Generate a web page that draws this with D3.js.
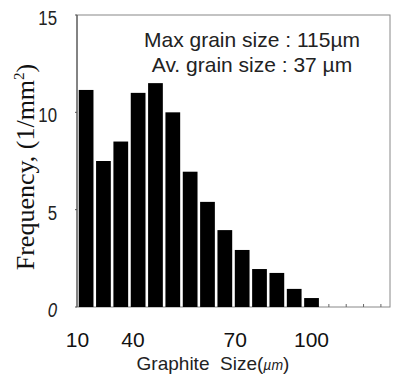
<!DOCTYPE html>
<html>
<head>
<meta charset="utf-8">
<script src="https://cdn.jsdelivr.net/npm/d3@7"></script>
<style>
  html, body { margin: 0; padding: 0; background: #fff; }
  svg { display: block; }
</style>
</head>
<body>
<div id="chart"></div>
<script>
// bins of graphite size, frequency per mm^2
const bins = d3.range(18).map(i => `b${i + 1}`);
const frequency = [11.15, 7.5, 8.5, 11.0, 11.5, 10.0, 6.95, 5.4, 3.95, 2.93, 1.95, 1.75, 0.93, 0.46, 0, 0, 0, 0];
const yTicks = [0, 5, 10, 15];
const xTickLabels = ['10', '40', '70', '100'];
const xTickBins = [-0.5, 2.7, 8.6, 13.0];   // where each label sits, in bin units
const notes = ['Max grain size : 115\u00b5m', 'Av. grain size : 37 \u00b5m'];

const width = 393;
const height = 374;
const margin = { top: 15, right: 3, bottom: 67, left: 77 };

const svg = d3.select('#chart').append('svg')
  .attr('width', width)
  .attr('height', height);

const x = d3.scaleBand()
  .domain(bins)
  .range([margin.left, width - margin.right])
  .paddingInner(0.15)
  .paddingOuter(0.1);

const y = d3.scaleLinear()
  .domain([0, 15])
  .range([height - margin.bottom, margin.top]);

// frame
svg.append('rect')
  .attr('x', margin.left)
  .attr('y', margin.top)
  .attr('width', width - margin.left - margin.right)
  .attr('height', y(0) - margin.top)
  .attr('fill', 'none')
  .attr('stroke', '#888')
  .attr('stroke-width', 1);

svg.append('line')
  .attr('x1', margin.left).attr('x2', margin.left)
  .attr('y1', margin.top).attr('y2', y(0))
  .attr('stroke', '#444');

// small ticks at bin edges on the bottom line
svg.append('g')
  .selectAll('line')
  .data(bins.slice(14))
  .join('line')
  .attr('x1', d => x(d) + x.bandwidth() / 2)
  .attr('x2', d => x(d) + x.bandwidth() / 2)
  .attr('y1', y(0))
  .attr('y2', y(0) - 3)
  .attr('stroke', '#666');

// bars
svg.append('g')
  .selectAll('rect')
  .data(frequency)
  .join('rect')
  .attr('x', (d, i) => x(bins[i]))
  .attr('y', d => y(d))
  .attr('width', x.bandwidth())
  .attr('height', d => y(0) - y(d))
  .attr('fill', '#000');

// y tick labels
const yAxis = svg.append('g');
yTicks.forEach(t => {
  yAxis.append('line')
    .attr('x1', margin.left - 2).attr('x2', margin.left)
    .attr('y1', y(t)).attr('y2', y(t))
    .attr('stroke', '#555');
  yAxis.append('text')
    .attr('transform', `translate(${margin.left - 20}, ${y(t) + 10}) scale(0.8, 1)`)
    .attr('text-anchor', 'end')
    .attr('font-family', 'Liberation Sans, Arial, sans-serif')
    .attr('font-style', t === 0 ? 'italic' : 'normal')
    .attr('font-size', 21)
    .attr('fill', '#222')
    .text(t);
});

// x tick labels
svg.append('g')
  .selectAll('text')
  .data(xTickLabels)
  .join('text')
  .attr('x', (d, i) => x(bins[0]) + x.bandwidth() / 2 + xTickBins[i] * x.step())
  .attr('y', y(0) + 40)
  .attr('text-anchor', 'middle')
  .attr('font-family', 'Liberation Sans, Arial, sans-serif')
  .attr('font-size', 21)
  .attr('fill', '#111')
  .text(d => d);

// x title
const xTitle = svg.append('text')
  .attr('x', 213)
  .attr('y', height - 4)
  .attr('text-anchor', 'middle')
  .attr('font-family', 'Liberation Sans, Arial, sans-serif')
  .attr('font-size', 19)
  .attr('fill', '#222')
  .attr('xml:space', 'preserve');
xTitle.append('tspan').text('Graphite  Size(');
xTitle.append('tspan').attr('font-style', 'italic').attr('font-size', 14).text('\u00b5m');
xTitle.append('tspan').text(')');

// y title
const yTitle = svg.append('text')
  .attr('transform', 'translate(34, 167) rotate(-90)')
  .attr('text-anchor', 'middle')
  .attr('font-family', 'Liberation Serif, Times New Roman, serif')
  .attr('font-size', 26)
  .attr('fill', '#111');
yTitle.append('tspan').text('Frequency, (1/mm');
yTitle.append('tspan').attr('font-size', 15).attr('dy', -10).text('2');
yTitle.append('tspan').attr('dy', 10).text(')');

// annotation
svg.append('g')
  .selectAll('text')
  .data(notes)
  .join('text')
  .attr('x', 252)
  .attr('y', (d, i) => 47 + i * 25)
  .attr('text-anchor', 'middle')
  .attr('font-family', 'Liberation Sans, Arial, sans-serif')
  .attr('font-size', 21)
  .attr('fill', '#222')
  .text(d => d);
</script>
</body>
</html>
